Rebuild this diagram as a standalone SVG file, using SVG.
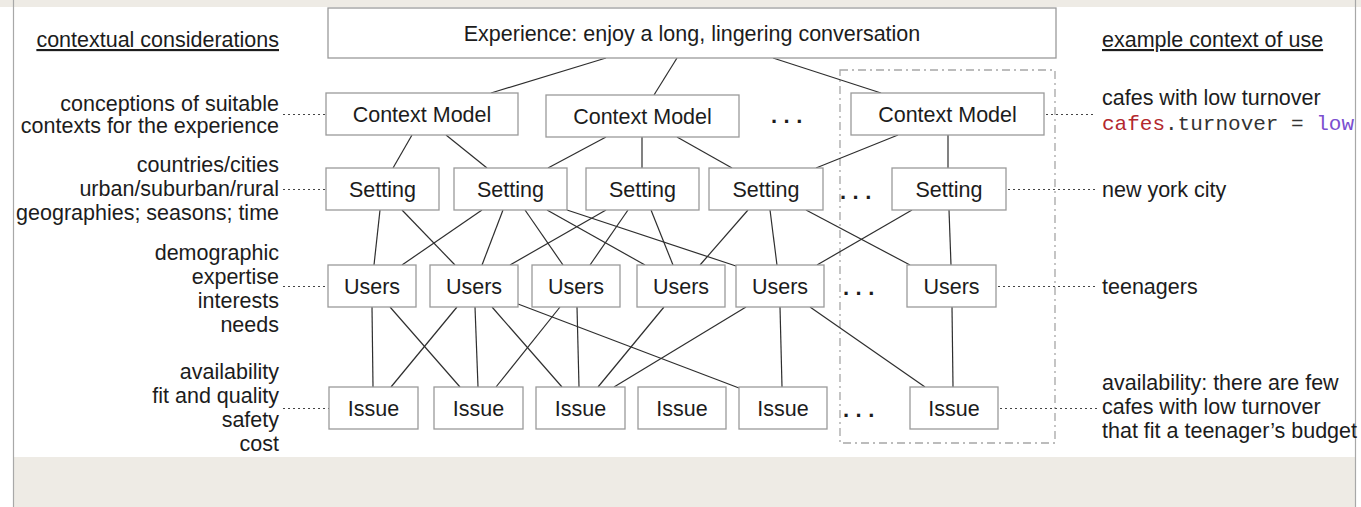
<svg xmlns="http://www.w3.org/2000/svg" width="1361" height="507" viewBox="0 0 1361 507">
<style>
.bg{fill:#eeebe5}
.edge{stroke:#a8a8a8;stroke-width:1.2}
.box{fill:#fff;stroke:#9a9a9a;stroke-width:1.3}
.t{font-family:"Liberation Sans",Arial,Helvetica,sans-serif;font-size:21.5px;fill:#1c1c1c}
.c{text-anchor:middle}
.r{text-anchor:end}
.u{text-decoration:underline}
.mono{font-family:"Liberation Mono","Courier New",monospace;font-size:21px;fill:#333}
.dots{font-family:"Liberation Sans",Arial,sans-serif;font-size:22px;font-weight:bold;fill:#1c1c1c;letter-spacing:6.5px}
.con line{stroke:#2e2e2e;stroke-width:1.2}
.lead line{stroke:#444;stroke-width:1.1;stroke-dasharray:2 3}
.grp{fill:none;stroke:#a6a6a6;stroke-width:1.3;stroke-dasharray:8 4 2 4}
</style>
<rect width="1361" height="507" fill="#fff"/>
<rect class="bg" x="0" y="0" width="1361" height="7"/>
<rect class="bg" x="13" y="457" width="1342" height="50"/>
<line class="edge" x1="13.5" y1="0" x2="13.5" y2="507"/>
<line class="edge" x1="1355.5" y1="0" x2="1355.5" y2="507"/>

<rect class="grp" x="840" y="70" width="215" height="373"/>

<g class="con" id="connectors">
<line x1="606" y1="58" x2="491" y2="93"/>
<line x1="677" y1="58" x2="654" y2="95"/>
<line x1="773" y1="58" x2="881" y2="93"/>
<line x1="412" y1="135" x2="393" y2="168"/>
<line x1="446" y1="135" x2="487" y2="168"/>
<line x1="606" y1="137" x2="548" y2="168"/>
<line x1="642" y1="137" x2="642" y2="168"/>
<line x1="677" y1="137" x2="732" y2="168"/>
<line x1="898" y1="135" x2="816" y2="168"/>
<line x1="948" y1="135" x2="948" y2="168"/>
<line x1="380" y1="210" x2="374" y2="265"/>
<line x1="402" y1="210" x2="455" y2="265"/>
<line x1="482" y1="210" x2="402" y2="265"/>
<line x1="503" y1="210" x2="482" y2="265"/>
<line x1="525" y1="210" x2="563" y2="265"/>
<line x1="547" y1="210" x2="645" y2="265"/>
<line x1="567" y1="210" x2="736" y2="266"/>
<line x1="606" y1="210" x2="510" y2="265"/>
<line x1="628" y1="210" x2="590" y2="265"/>
<line x1="651" y1="210" x2="673" y2="265"/>
<line x1="748" y1="210" x2="700" y2="265"/>
<line x1="770" y1="210" x2="777" y2="265"/>
<line x1="806" y1="210" x2="910" y2="265"/>
<line x1="912" y1="210" x2="817" y2="265"/>
<line x1="949" y1="210" x2="951" y2="265"/>
<line x1="372" y1="307" x2="373" y2="387"/>
<line x1="390" y1="307" x2="460" y2="387"/>
<line x1="457" y1="307" x2="391" y2="387"/>
<line x1="475" y1="307" x2="478" y2="387"/>
<line x1="492" y1="307" x2="562" y2="387"/>
<line x1="518" y1="304" x2="739" y2="388"/>
<line x1="560" y1="307" x2="496" y2="387"/>
<line x1="577" y1="307" x2="579" y2="387"/>
<line x1="664" y1="307" x2="598" y2="387"/>
<line x1="746" y1="307" x2="614" y2="387"/>
<line x1="780" y1="307" x2="782" y2="387"/>
<line x1="810" y1="307" x2="925" y2="387"/>
<line x1="952" y1="307" x2="953" y2="387"/>
</g>

<g class="lead" id="leaders">
<line x1="283" y1="114.5" x2="326" y2="114.5"/>
<line x1="283" y1="189.5" x2="326" y2="189.5"/>
<line x1="283" y1="286.5" x2="328" y2="286.5"/>
<line x1="283" y1="408.5" x2="329" y2="408.5"/>
<line x1="1046" y1="114.5" x2="1096" y2="114.5"/>
<line x1="1008" y1="189.5" x2="1096" y2="189.5"/>
<line x1="998" y1="286.5" x2="1096" y2="286.5"/>
<line x1="1000" y1="408.5" x2="1098" y2="408.5"/>
</g>

<g id="experience"><rect class="box" x="328" y="8" width="728" height="50"/><text class="t c" x="692" y="40.5">Experience: enjoy a long, lingering conversation</text></g>

<g id="cm1"><rect class="box" x="326" y="93" width="192" height="42"/><text class="t c" x="422" y="121.5">Context Model</text></g>
<g id="cm2"><rect class="box" x="546" y="95" width="193" height="42"/><text class="t c" x="642.5" y="123.5">Context Model</text></g>
<g id="cm3"><rect class="box" x="851" y="93" width="193" height="42"/><text class="t c" x="947.5" y="121.5">Context Model</text></g>

<g id="s1"><rect class="box" x="326" y="168" width="113" height="42"/><text class="t c" x="382.5" y="196.5">Setting</text></g>
<g id="s2"><rect class="box" x="454" y="168" width="113" height="42"/><text class="t c" x="510.5" y="196.5">Setting</text></g>
<g id="s3"><rect class="box" x="586" y="168" width="113" height="42"/><text class="t c" x="642.5" y="196.5">Setting</text></g>
<g id="s4"><rect class="box" x="709" y="168" width="114" height="42"/><text class="t c" x="766" y="196.5">Setting</text></g>
<g id="s5"><rect class="box" x="892" y="168" width="114" height="42"/><text class="t c" x="949" y="196.5">Setting</text></g>

<g id="u1"><rect class="box" x="328" y="265" width="88" height="42"/><text class="t c" x="372" y="293.5">Users</text></g>
<g id="u2"><rect class="box" x="430" y="265" width="88" height="42"/><text class="t c" x="474" y="293.5">Users</text></g>
<g id="u3"><rect class="box" x="532" y="265" width="88" height="42"/><text class="t c" x="576" y="293.5">Users</text></g>
<g id="u4"><rect class="box" x="637" y="265" width="88" height="42"/><text class="t c" x="681" y="293.5">Users</text></g>
<g id="u5"><rect class="box" x="736" y="265" width="88" height="42"/><text class="t c" x="780" y="293.5">Users</text></g>
<g id="u6"><rect class="box" x="907" y="265" width="89" height="42"/><text class="t c" x="951.5" y="293.5">Users</text></g>

<g id="i1"><rect class="box" x="329" y="387" width="89" height="42"/><text class="t c" x="373.5" y="415.5">Issue</text></g>
<g id="i2"><rect class="box" x="434" y="387" width="89" height="42"/><text class="t c" x="478.5" y="415.5">Issue</text></g>
<g id="i3"><rect class="box" x="536" y="387" width="89" height="42"/><text class="t c" x="580.5" y="415.5">Issue</text></g>
<g id="i4"><rect class="box" x="638" y="387" width="88" height="42"/><text class="t c" x="682" y="415.5">Issue</text></g>
<g id="i5"><rect class="box" x="739" y="387" width="88" height="42"/><text class="t c" x="783" y="415.5">Issue</text></g>
<g id="i6"><rect class="box" x="910" y="387" width="88" height="42"/><text class="t c" x="954" y="415.5">Issue</text></g>

<g id="ellipses">
<text class="dots" x="771" y="123">...</text>
<text class="dots" x="840" y="199">...</text>
<text class="dots" x="843" y="295">...</text>
<text class="dots" x="843" y="417">...</text>
</g>

<g id="left-labels">
<text class="t r u" x="279" y="47">contextual considerations</text>
<text class="t r" x="279" y="111">conceptions of suitable</text>
<text class="t r" x="279" y="133">contexts for the experience</text>
<text class="t r" x="279" y="172">countries/cities</text>
<text class="t r" x="279" y="196">urban/suburban/rural</text>
<text class="t r" x="279" y="220">geographies; seasons; time</text>
<text class="t r" x="279" y="260">demographic</text>
<text class="t r" x="279" y="284">expertise</text>
<text class="t r" x="279" y="308">interests</text>
<text class="t r" x="279" y="332">needs</text>
<text class="t r" x="279" y="379">availability</text>
<text class="t r" x="279" y="403">fit and quality</text>
<text class="t r" x="279" y="427">safety</text>
<text class="t r" x="279" y="451">cost</text>
</g>

<g id="right-labels">
<text class="t u" x="1102" y="47">example context of use</text>
<text class="t" x="1102" y="105">cafes with low turnover</text>
<text class="mono" x="1102" y="130"><tspan fill="#b3282d">cafes</tspan>.turnover = <tspan fill="#7b4fd0">low</tspan></text>
<text class="t" x="1102" y="197">new york city</text>
<text class="t" x="1102" y="294">teenagers</text>
<text class="t" x="1102" y="390">availability: there are few</text>
<text class="t" x="1102" y="414">cafes with low turnover</text>
<text class="t" x="1102" y="438">that fit a teenager’s budget</text>
</g>
</svg>
